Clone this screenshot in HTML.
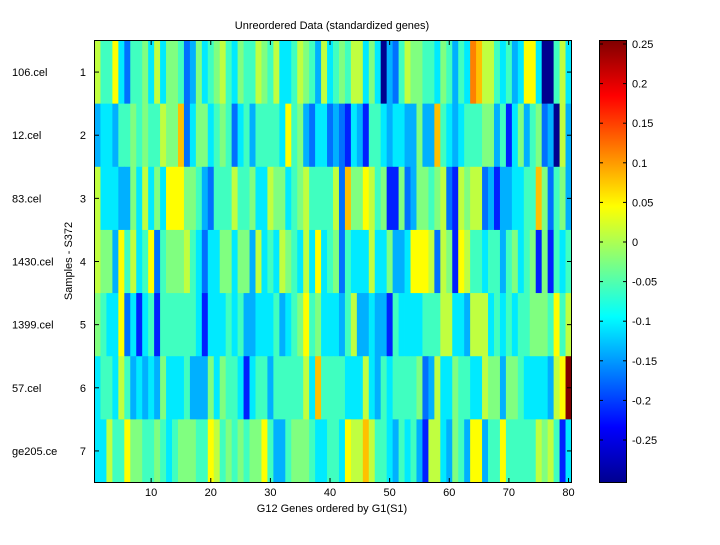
<!DOCTYPE html>
<html><head><meta charset="utf-8"><style>
body{margin:0;background:#fff;width:720px;height:540px;overflow:hidden;font-family:"Liberation Sans",sans-serif}
</style></head><body>
<svg id="s" width="720" height="540" xmlns="http://www.w3.org/2000/svg" font-family="Liberation Sans, sans-serif" font-size="11">
<defs><linearGradient id="jet" x1="0" y1="1" x2="0" y2="0">
<stop offset="0" stop-color="#00008f"/><stop offset="0.125" stop-color="#0000ff"/><stop offset="0.375" stop-color="#00ffff"/><stop offset="0.625" stop-color="#ffff00"/><stop offset="0.875" stop-color="#ff0000"/><stop offset="1" stop-color="#800000"/></linearGradient></defs>
<g id="hm"></g>
<rect x="94.5" y="40.5" width="477" height="442" fill="none" stroke="#000"/>
<rect x="599.5" y="40.5" width="27" height="442" fill="url(#jet)" stroke="#000"/>
<text x="332" y="29" text-anchor="middle">Unreordered Data (standardized genes)</text>
<text x="332" y="512" text-anchor="middle">G12 Genes ordered by G1(S1)</text>
<text transform="translate(72,261) rotate(-90)" text-anchor="middle">Samples - S372</text>
<g id="ax"></g>
</svg>
<script>
var C={D:'#00008f',B:'#0020ff',b:'#0070ff',s:'#00b0ff',c:'#00eaff',t:'#40ffc0',g:'#80ff80',l:'#c0ff40',y:'#ffff00',o:'#ffc000',O:'#ff8000',R:'#800000'};
var rows=[
"lttycbttgclcggtbsgct"+"gltcgttlgtlcctlgtslc"+"tgtllcgcDsbtlggttcgt"+"stcOollt ctscyycDDtlc".replace(' ',''),
"sccsttgtgttlggobcggc"+"tgtbctsttttcytgsbccb"+"sbBcsBttcsccssgssotc"+"sctttggstBcgstgbsDls".slice(0,19)+"s",
"lcccssgclcgcyyyggtsb"+"tttlttgcclggctgltttt"+"lboggyltgBBgbsggtglbg".slice(0,20)+""+"BlgllbsBssccttogbtgsc".slice(0,20),
"lggsytlctybtgggltcbc"+"cggcggslctclgtclcyct"+"gbtccclccgsscyyylblg"+"BylttcttstgctgBgBtct",
"gtccybcBctBttttttcBc"+"cctctssccctsctgytgcc"+"cstlsscssBtcccctttllg".slice(0,20)+"ccslllctctcttgggtytl",
"cttcltscscsgccctsssg"+"cgttcBcttstttttlcott"+"ttccclcstcttttgbslcc"+"gttcclggsggtccccslyR",
"cclttyggttgtctgggttyg".slice(0,20)+"ltgtgtggytsstgggtcct"+"tcyllolttcstctsBllcss".slice(0,20)+"gtsyysttytttttlgltBct".slice(0,20)
];
var hm=document.getElementById('hm'),h='',cw=477/80,rh=442/7;
for(var r=0;r<7;r++){var row=rows[r];for(var i=0;i<80;i++){var k=row[i]||'t';
h+='<rect x="'+(94.5+i*cw).toFixed(2)+'" y="'+(40.5+r*rh).toFixed(2)+'" width="'+(cw+0.4).toFixed(2)+'" height="'+(rh+0.4).toFixed(2)+'" fill="'+(C[k]||C.t)+'"/>';}}
hm.innerHTML=h;
var a='',names=["106.cel","12.cel","83.cel","1430.cel","1399.cel","57.cel","ge205.ce"];
for(var r=0;r<7;r++){var y=40.5+(r+0.5)*rh;
a+='<line x1="94.5" x2="99" y1="'+y+'" y2="'+y+'" stroke="#000"/><line x1="567" x2="571.5" y1="'+y+'" y2="'+y+'" stroke="#000"/>';
a+='<text x="86" y="'+(y+4)+'" text-anchor="end">'+(r+1)+'</text><text x="12" y="'+(y+4)+'">'+names[r]+'</text>';}
for(var v=10;v<=80;v+=10){var x=94.5+(v-0.5)*cw;
a+='<line x1="'+x+'" x2="'+x+'" y1="482.5" y2="478" stroke="#000"/><line x1="'+x+'" x2="'+x+'" y1="40.5" y2="45" stroke="#000"/>';
a+='<text x="'+x+'" y="496" text-anchor="middle">'+v+'</text>';}
var lab=["0.25","0.2","0.15","0.1","0.05","0","-0.05","-0.1","-0.15","-0.2","-0.25"];
for(var j=0;j<11;j++){var y=44+j*39.6;
a+='<line x1="599.5" x2="603" y1="'+y+'" y2="'+y+'" stroke="#000"/><line x1="623" x2="626.5" y1="'+y+'" y2="'+y+'" stroke="#000"/>';
a+='<text x="632" y="'+(y+4)+'">'+lab[j]+'</text>';}
document.getElementById('ax').innerHTML=a;
</script>
</body></html>
